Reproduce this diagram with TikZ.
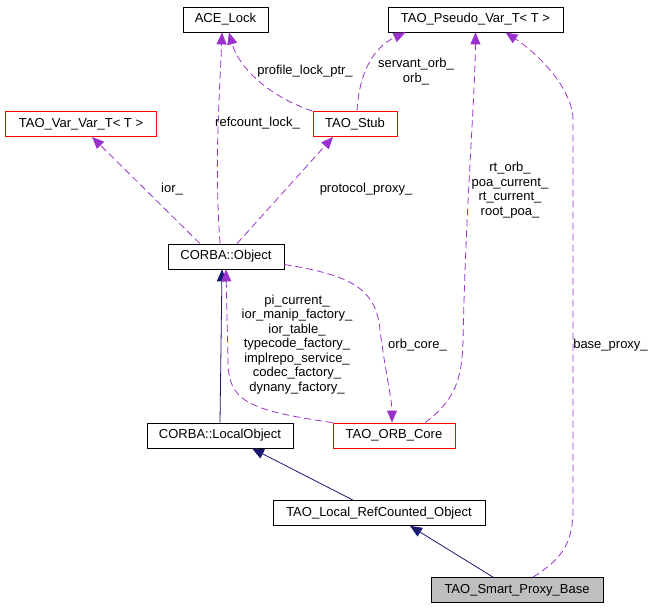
\documentclass[tikz,border=0pt]{standalone}
\usepackage{fontspec}
\setmainfont{Liberation Sans}
\usetikzlibrary{
	arrows.meta,
	positioning,
}

\definecolor{usecol}{HTML}{9A32CD}
\definecolor{inhcol}{HTML}{191970}

\begin{document}
\begin{tikzpicture}[
	x=1pt,y=1pt,
	>={Triangle[length=12pt,width=10pt]},
	line width=0.8pt,
	node distance = 100pt,
	font=\fontsize{13}{14.5}\selectfont,
	classbox/.style={draw=black,minimum height=25pt,inner sep=0pt},
	cutbox/.style={classbox,draw=red},
	mainbox/.style={classbox,fill=black!25},
	uses/.style={->,usecol,dash pattern=on 7pt off 4pt},
	inherits/.style={->,inhcol},
	lbl/.style={text=black,align=center}
	]
	\useasboundingbox (0,0) rectangle (656,-608);
	
	%% line 1
	\node (Lock) [classbox,minimum width=85pt] at (225.5,-19.5) {ACE\_Lock};
	\node (Pseudo) [classbox,minimum width=175pt,right of=Lock,xshift=150pt] {TAO\_Pseudo\_Var\_T< T >};
	
	%% line 2
	\node (VarVar) [cutbox,minimum width=151pt,below of=Lock,xshift=-144.5pt,yshift=-4.5pt] {TAO\_Var\_Var\_T< T >};
	\node (Stub) [cutbox,minimum width=84pt,below of=Lock,xshift=129.5pt,yshift=-4.5pt] {TAO\_Stub};
	
	%% line 3
	\node (Object) [classbox,minimum width=116pt,below of=Stub,xshift=-129pt,yshift=-32.5pt] {CORBA::Object};
	
	%% line 4
	\node (LocalObject) [classbox,minimum width=146pt,below of=Object,xshift=-6pt,yshift=-79pt] {CORBA::LocalObject};
	\node (ORBCore) [cutbox,minimum width=122pt,right of=LocalObject,xshift=74pt] {TAO\_ORB\_Core};
	
	%% line 5
	\node (RefCounted) [classbox,minimum width=212pt,below of=ORBCore,xshift=-15pt,yshift=22.5pt] {TAO\_Local\_RefCounted\_Object};
	
	%% line 6
	\node (Smart) [mainbox,minimum width=172pt,below of=RefCounted,xshift=138pt,yshift=23pt] {TAO\_Smart\_Proxy\_Base};
	
	%% inheritance
	\draw[inherits] (LocalObject.north) -- ([xshift=-4pt]Object.south);
	\draw[inherits] ([xshift=-26pt]RefCounted.north) -- ([xshift=32pt]LocalObject.south);
	\draw[inherits] ([xshift=-24pt]Smart.north) -- ([xshift=31pt]RefCounted.south);
	
	%% members
	\draw[uses] ([xshift=-6pt]Object.north) .. controls (214,-160) and (220,-90) .. ([xshift=-3.5pt]Lock.south)
		node[lbl] at (257.5,-123) {refcount\_lock\_};
	\draw[uses] (Stub.north west) .. controls (265,-95) and (238,-65) .. ([xshift=3.5pt]Lock.south)
		node[lbl] at (305,-71) {profile\_lock\_ptr\_};
	\draw[uses] ([xshift=2pt]Stub.north) .. controls (359,-75) and (372,-48) .. ([xshift=-70pt]Pseudo.south)
		node[lbl] at (416,-71.5) {servant\_orb\_\\orb\_};
	\draw[uses] ([xshift=-26pt]Object.north) -- ([xshift=11pt]VarVar.south)
		node[lbl] at (172,-189) {ior\_};
	\draw[uses] ([xshift=11pt]Object.north) -- ([xshift=-22pt]Stub.south)
		node[lbl] at (366,-189) {protocol\_proxy\_};
	\draw[uses] (ORBCore.north west) .. controls (245,-410) and (228,-400) .. (228,-360) -- (Object.south)
		node[lbl] at (297,-344.5) {pi\_current\_\\ior\_manip\_factory\_\\ior\_table\_\\typecode\_factory\_\\implrepo\_service\_\\codec\_factory\_\\dynany\_factory\_};
	\draw[uses] ([yshift=-8pt]Object.east) .. controls (350,-275) and (376,-288) .. (380,-330) .. controls (385,-370) and (392,-400) .. ([xshift=-2pt]ORBCore.north)
		node[lbl] at (417.5,-345) {orb\_core\_};
	\draw[uses] ([xshift=31pt]ORBCore.north) .. controls (455,-400) and (462,-380) .. (463,-340) .. controls (466,-200) and (475,-100) .. (Pseudo.south)
		node[lbl] at (510,-190) {rt\_orb\_\\poa\_current\_\\rt\_current\_\\root\_poa\_};
	\draw[uses] ([xshift=16pt]Smart.north) .. controls (560,-560) and (573,-545) .. (573,-510) -- (573,-120) .. controls (573,-90) and (540,-55) .. ([xshift=30pt]Pseudo.south)
		node[lbl] at (610.5,-345) {base\_proxy\_};
	
\end{tikzpicture}
\end{document}
